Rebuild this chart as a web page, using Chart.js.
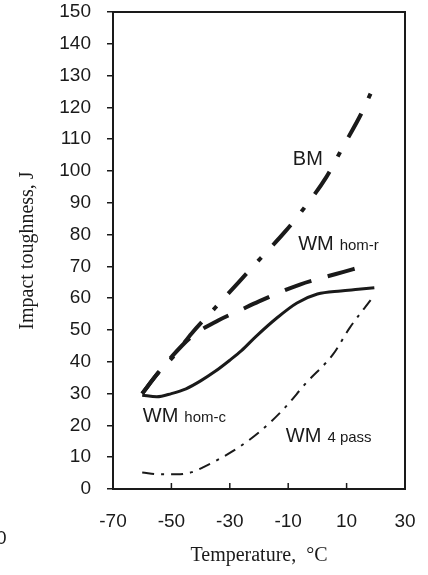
<!DOCTYPE html>
<html>
<head>
<meta charset="utf-8">
<script src="https://cdn.jsdelivr.net/npm/chart.js@4/dist/chart.umd.min.js"></script>
<style>
  html, body {
    margin: 0;
    padding: 0;
    background: #ffffff;
  }

  #box {
    width: 428px;
    height: 575px;
  }
</style>
</head>
<body>
<div id="box">
  <canvas id="chart"></canvas>
</div>
<script>
// DATA

const temperatureTicks =
  [-70, -50, -30, -10, 10, 30];

const toughnessTicks =
  [0, 10, 20, 30, 40, 50, 60, 70, 80, 90, 100, 110, 120, 130, 140, 150];

const bmTemps =
  [-60, -55, -49, -43, -35, -27, -19, -11, -4, 3, 9, 15, 20];

const bmValues =
  [30, 36, 42, 49, 57, 65, 73, 81, 89, 98, 108, 118, 128];

const homRTemps =
  [-60, -55, -50, -43, -34, -27, -20, -13, -6, 2, 9, 14];

const homRValues =
  [30, 36, 41.5, 48, 53, 56, 59, 61.8, 64.3, 66.5, 68.3, 69.6];

const homCTemps =
  [-60, -55, -50, -45, -40, -35, -30, -26, -21, -14, -7, 0, 8, 14, 19.5];

const homCValues =
  [29.5, 29, 30, 31.5, 34, 37, 40.5, 43.5, 48, 53.7, 58.5, 61.3, 62.3, 62.8, 63.3];

const pass4Temps =
  [-60, -54, -48, -43, -39, -29, -20, -11.5, -3.8, 5.4, 11, 18.5];

const pass4Values =
  [5.2, 4.6, 4.6, 5.3, 6.9, 11.9, 17.8, 25.2, 33.4, 42.4, 50.6, 59.7];

// curve labels: [main, small, temperature, toughness]
const curveLabels = [
  ['BM', '', -8.4, 102],
  ['WM', 'hom-r', -6.6, 75.3],
  ['WM', 'hom-c', -59.8, 21.2],
  ['WM', '4 pass', -10.8, 14.8],
];

const ink = '#1a1a1a';

const toPoints = (xs, ys) =>
  xs.map((x, i) => ({ x, y: ys[i] }));

const makeLine = (label, xs, ys, width, dash) => ({
  label,
  data: toPoints(xs, ys),
  showLine: true,
  borderColor: ink,
  backgroundColor: ink,
  borderWidth: width,
  borderDash: dash,
  borderCapStyle: 'butt',
  pointRadius: 0,
  cubicInterpolationMode: 'monotone',
  fill: false,
});

// frame, inside x ticks and curve labels
const decorations = {
  id: 'decorations',

  afterDraw(chart) {
    const { ctx, chartArea, scales } = chart;
    const xs = scales.x;
    const ys = scales.y;

    ctx.save();

    // frame
    ctx.strokeStyle = ink;
    ctx.lineWidth = 2;
    ctx.strokeRect(
      chartArea.left,
      chartArea.top,
      chartArea.right - chartArea.left,
      chartArea.bottom - chartArea.top
    );

    // x ticks point inwards
    ctx.lineWidth = 1.5;
    temperatureTicks
      .slice(1, -1)
      .forEach(t => {
        const px = xs.getPixelForValue(t);
        ctx.beginPath();
        ctx.moveTo(px, chartArea.bottom);
        ctx.lineTo(px, chartArea.bottom - 6);
        ctx.stroke();
      });

    // curve labels
    ctx.fillStyle = ink;
    ctx.textBaseline = 'alphabetic';
    ctx.textAlign = 'left';
    curveLabels.forEach(([main, small, t, v]) => {
      const px = xs.getPixelForValue(t);
      const py = ys.getPixelForValue(v);
      ctx.font = '20px "Liberation Sans", Arial, sans-serif';
      ctx.fillText(main, px, py);
      if (small) {
        const w = ctx.measureText(main).width;
        ctx.font = '15px "Liberation Sans", Arial, sans-serif';
        ctx.fillText(small, px + w + 6, py);
      }
    });

    // cropped label from the neighbouring figure
    ctx.font = '19px "Liberation Sans", Arial, sans-serif';
    ctx.fillText('0', -4, 544);

    ctx.restore();
  },
};

new Chart(
  document.getElementById('chart'),
  {
    type: 'scatter',

    data: {
      datasets: [
        makeLine('BM', bmTemps, bmValues, 4, [27, 17, 5, 17]),
        makeLine('WM hom-r', homRTemps, homRValues, 4, [28, 17]),
        makeLine('WM hom-c', homCTemps, homCValues, 3, []),
        makeLine('WM 4 pass', pass4Temps, pass4Values, 2, [12, 7, 3, 7]),
      ],
    },

    options: {
      responsive: true,
      maintainAspectRatio: false,
      animation: false,

      layout: {
        padding: {
          top: 12,
          right: 23,
          left: 0,
          bottom: 0,
        },
      },

      plugins: {
        legend: { display: false },
        tooltip: { enabled: false },
      },

      scales: {
        x: {
          type: 'linear',
          min: temperatureTicks[0],
          max: temperatureTicks[temperatureTicks.length - 1],
          afterBuildTicks: scale => {
            scale.ticks = temperatureTicks.map(value => ({ value }));
          },
          afterFit: scale => {
            scale.height = 86;
            scale.paddingLeft = 0;
            scale.paddingRight = 0;
          },
          ticks: {
            color: ink,
            padding: 21,
            maxRotation: 0,
            autoSkip: false,
            font: {
              family: '"Liberation Sans", Arial, sans-serif',
              size: 19,
            },
          },
          grid: {
            drawOnChartArea: false,
            drawTicks: false,
          },
          border: {
            display: true,
            color: ink,
            width: 2,
          },
          title: {
            display: true,
            text: 'Temperature,  °C',
            color: ink,
            padding: { top: 0, bottom: 7 },
            font: {
              family: '"Liberation Serif", "Times New Roman", serif',
              size: 20,
            },
          },
        },

        y: {
          type: 'linear',
          min: toughnessTicks[0],
          max: toughnessTicks[toughnessTicks.length - 1],
          afterBuildTicks: scale => {
            scale.ticks = toughnessTicks.map(value => ({ value }));
          },
          afterFit: scale => {
            scale.width = 113;
            scale.paddingTop = 0;
            scale.paddingBottom = 0;
          },
          ticks: {
            color: ink,
            padding: 16,
            autoSkip: false,
            font: {
              family: '"Liberation Sans", Arial, sans-serif',
              size: 19,
            },
          },
          grid: {
            drawOnChartArea: false,
            drawTicks: true,
            tickLength: 6,
            color: ink,
            lineWidth: 1.5,
          },
          border: {
            display: true,
            color: ink,
            width: 2,
          },
          title: {
            display: true,
            text: 'Impact toughness, J',
            color: ink,
            padding: { top: 16, bottom: 0 },
            font: {
              family: '"Liberation Serif", "Times New Roman", serif',
              size: 20,
            },
          },
        },
      },
    },

    plugins: [decorations],
  }
);
</script>
</body>
</html>
